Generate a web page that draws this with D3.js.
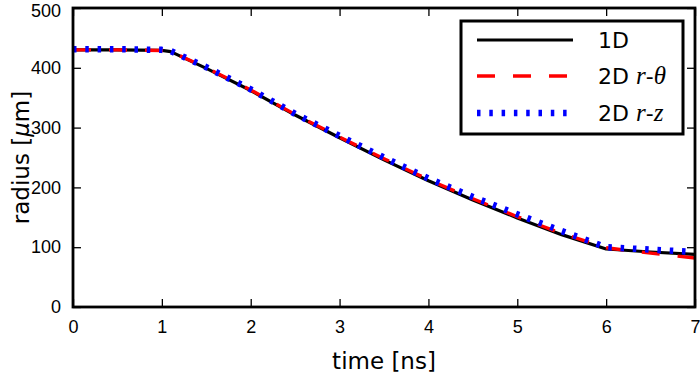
<!DOCTYPE html>
<html>
<head>
<meta charset="utf-8">
<script src="https://cdn.jsdelivr.net/npm/d3@7"></script>
<style>
  body { margin: 0; background: #fff; }
  svg { display: block; }
</style>
</head>
<body>
<div id="chart"></div>
<script>
// radius vs time
var times1D = [0, 0.5, 1.0, 1.1, 1.5, 2.0, 2.5, 3.0, 3.5, 4.0, 4.5, 5.0, 5.5, 6.0, 6.5, 7.0];
var radius1D = [430, 430, 429, 427, 399, 362, 321, 283, 246, 211, 179, 149, 121, 97, 92, 88];
var radiusRTheta = [430, 430, 429, 427, 400, 363, 322, 284, 248, 213, 181, 151, 123, 99, 90, 82];
var radiusRZ = [431, 431, 430, 428, 401, 364, 323, 286, 250, 215, 184, 155, 127, 100, 96, 92];
var xTicks = [0, 1, 2, 3, 4, 5, 6, 7];
var yTicks = [0, 100, 200, 300, 400, 500];
var seriesNames = ["1D", "2D r-θ", "2D r-z"];

var W = 700, H = 375;
var margin = { top: 8, right: 5, bottom: 68, left: 73 };
var width = W - margin.left - margin.right;
var height = H - margin.top - margin.bottom;

var svg = d3.select("#chart").append("svg")
  .attr("width", W).attr("height", H)
  .style("font-family", "'DejaVu Sans', sans-serif");

var g = svg.append("g")
  .attr("transform", "translate(" + margin.left + "," + margin.top + ")");

var x = d3.scaleLinear().domain([0, 7]).range([0, width]);
var y = d3.scaleLinear().domain([0, 500]).range([height, 0]);

// inward ticks on all four sides
function tickStyle(sel) {
  sel.select(".domain").remove();
  sel.selectAll(".tick line").attr("stroke", "#000").attr("stroke-width", 1.3);
  sel.selectAll(".tick text").style("font-size", "18px").attr("fill", "#000");
}
g.append("g")
  .attr("transform", "translate(0," + height + ")")
  .call(d3.axisBottom(x).tickValues(xTicks).tickFormat(d3.format("d")).tickSizeInner(-8).tickPadding(13))
  .call(tickStyle);
g.append("g")
  .call(d3.axisTop(x).tickValues(xTicks).tickFormat("").tickSizeInner(-8))
  .call(tickStyle);
var yAxis = g.append("g")
  .call(d3.axisLeft(y).tickValues(yTicks).tickFormat(d3.format("d")).tickSizeInner(-8).tickPadding(12))
  .call(tickStyle);
// top label sits right at the edge, nudge it in a touch
yAxis.selectAll(".tick text").filter(function (d) { return d === 500; }).attr("dy", "0.45em");
g.append("g")
  .attr("transform", "translate(" + width + ",0)")
  .call(d3.axisRight(y).tickValues(yTicks).tickFormat("").tickSizeInner(-8))
  .call(tickStyle);

var line = d3.line()
  .x(function (d) { return x(d[0]); })
  .y(function (d) { return y(d[1]); });

var series = [
  { name: seriesNames[0], values: radius1D, color: "#000000", width: 3.2, dash: null },
  { name: seriesNames[1], values: radiusRTheta, color: "#ff0000", width: 3.4, dash: "18,18" },
  { name: seriesNames[2], values: radiusRZ, color: "#0000ff", width: 6.5, dash: "3.5,8.8" }
];

g.append("clipPath").attr("id", "clip")
  .append("rect").attr("width", width).attr("height", height);

g.append("g").attr("clip-path", "url(#clip)")
  .selectAll("path")
  .data(series)
  .enter()
  .append("path")
  .attr("d", function (s) {
    return line(times1D.map(function (t, i) { return [t, s.values[i]]; }));
  })
  .attr("fill", "none")
  .attr("stroke", function (s) { return s.color; })
  .attr("stroke-width", function (s) { return s.width; })
  .attr("stroke-dasharray", function (s) { return s.dash; })
  .attr("stroke-linejoin", "round");

// frame
g.append("rect")
  .attr("width", width).attr("height", height)
  .attr("fill", "none").attr("stroke", "#000").attr("stroke-width", 2.8);

// axis labels
svg.append("text")
  .attr("x", margin.left + width / 2).attr("y", 369)
  .attr("text-anchor", "middle")
  .style("font-size", "23px")
  .text("time [ns]");

var ylab = svg.append("text")
  .attr("transform", "translate(29," + (margin.top + height / 2) + ") rotate(-90)")
  .attr("text-anchor", "middle")
  .style("font-size", "23px");
ylab.append("tspan").text("radius [");
ylab.append("tspan").style("font-style", "italic").text("μ");
ylab.append("tspan").text("m]");

// legend
var legend = svg.append("g").attr("transform", "translate(461,21)");
legend.append("rect")
  .attr("width", 222).attr("height", 113)
  .attr("fill", "#fff").attr("stroke", "#000").attr("stroke-width", 3);

var rowY = [19, 55, 92];
var item = legend.selectAll(".item")
  .data(series)
  .enter()
  .append("g")
  .attr("transform", function (d, i) { return "translate(0," + rowY[i] + ")"; });

item.append("line")
  .attr("x1", 16).attr("x2", 112)
  .attr("stroke", function (s) { return s.color; })
  .attr("stroke-width", function (s) { return s.width; })
  .attr("stroke-dasharray", function (s) { return s.dash; });

var labels = item.append("text")
  .attr("x", 137).attr("y", 8)
  .style("font-size", "22px");
labels.each(function (s, i) {
  var t = d3.select(this);
  if (i === 0) { t.text(s.name); return; }
  t.append("tspan").text("2D ");
  t.append("tspan").style("font-family", "'Liberation Serif', serif").style("font-style", "italic")
    .style("font-size", "25px").text("r");
  t.append("tspan").text("-");
  t.append("tspan").style("font-family", "'Liberation Serif', serif").style("font-style", "italic")
    .style("font-size", "25px").text(i === 1 ? "θ" : "z");
});
</script>
</body>
</html>
